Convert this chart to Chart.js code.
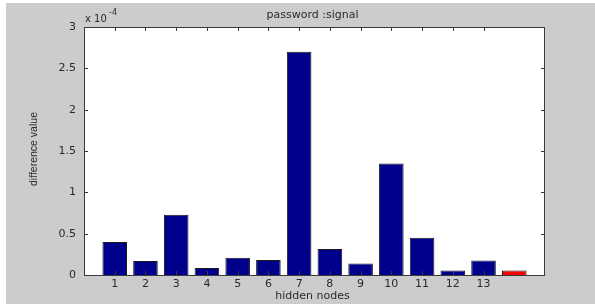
<!DOCTYPE html>
<html>
<head>
<meta charset="utf-8">
<script src="https://cdn.jsdelivr.net/npm/chart.js@4/dist/chart.umd.min.js"></script>
<style>
  html, body { margin: 0; padding: 0; background: #fff; }
  #wrap { width: 595px; height: 304px; }
</style>
</head>
<body>
<div id="wrap"><canvas id="c" width="595" height="304"></canvas></div>
<script>
/* ── DATA ── */
const hiddenNodes = [1, 2, 3, 4, 5, 6, 7, 8, 9, 10, 11, 12, 13, 14];
const diffValues  = [0.40, 0.17, 0.73, 0.085, 0.21, 0.18, 2.70, 0.315, 0.14, 1.35, 0.45, 0.053, 0.175, 0.053]; // x 10^-4
const tickedNodes = [1, 2, 3, 4, 5, 6, 7, 8, 9, 10, 11, 12, 13];
const yTicks      = [0, 0.5, 1, 1.5, 2, 2.5, 3];
const highlightNode = 14;

const titleText  = 'password :signal';
const xTitleText = 'hidden nodes';
const yTitleText = 'difference value';

const NAVY = '#00008c';
const RED  = '#ff0000';
const TXT  = '#2a2a2a';
const FONT = '"DejaVu Sans", sans-serif';

// grey figure, white axes, box, inward ticks, texts
const matlabFrame = {
  id: 'matlabFrame',
  beforeDraw(chart) {
    const { ctx, chartArea: a } = chart;
    ctx.save();
    ctx.fillStyle = '#ffffff';
    ctx.fillRect(0, 0, chart.width, chart.height);
    ctx.fillStyle = '#cccccc';
    ctx.fillRect(6, 3, chart.width - 6, chart.height - 3);
    ctx.fillStyle = '#ffffff';
    ctx.fillRect(a.left, a.top, a.right - a.left, a.bottom - a.top);
    ctx.restore();
  },
  afterDraw(chart) {
    const { ctx, chartArea: a, scales } = chart;
    const xs = scales.x, ys = scales.y;
    ctx.save();
    ctx.strokeStyle = '#3a3a3a';
    ctx.lineWidth = 1;
    ctx.strokeRect(a.left + 0.5, a.top + 0.5, a.right - a.left - 1, a.bottom - a.top);
    ctx.beginPath();
    tickedNodes.forEach(n => {
      const px = Math.round(xs.getPixelForValue(n)) + 0.5;
      ctx.moveTo(px, a.top); ctx.lineTo(px, a.top + 4);
      ctx.moveTo(px, a.bottom); ctx.lineTo(px, a.bottom - 4);
    });
    yTicks.forEach(v => {
      const py = Math.round(ys.getPixelForValue(v)) + 0.5;
      ctx.moveTo(a.left, py); ctx.lineTo(a.left + 4, py);
      ctx.moveTo(a.right, py); ctx.lineTo(a.right - 4, py);
    });
    ctx.stroke();

    ctx.fillStyle = TXT;
    ctx.textBaseline = 'middle';
    ctx.textAlign = 'center';
    ctx.font = '11px ' + FONT;
    const cx = (a.left + a.right) / 2 - 2;
    ctx.fillText(titleText, cx, 15);
    ctx.fillText(xTitleText, cx, 296);

    // exponent label
    ctx.textAlign = 'left';
    ctx.font = '10px ' + FONT;
    ctx.fillText('x 10', a.left + 1, 19);
    ctx.font = '8px ' + FONT;
    ctx.fillText('-4', a.left + 25, 13);

    // y title
    ctx.font = '10.5px "Liberation Sans Narrow", "Liberation Sans", sans-serif';
    ctx.textAlign = 'center';
    ctx.translate(34, (a.top + a.bottom) / 2 - 2);
    ctx.rotate(-Math.PI / 2);
    ctx.fillText(yTitleText, 0, 0);
    ctx.restore();
  }
};

new Chart(document.getElementById('c'), {
  type: 'bar',
  plugins: [matlabFrame],
  data: {
    datasets: [{
      data: hiddenNodes.map((n, i) => ({ x: n, y: diffValues[i] })),
      backgroundColor: ctx => (ctx.raw && ctx.raw.x === highlightNode) ? RED : NAVY,
      borderColor: '#1a1a1a',
      borderWidth: 1,
      borderSkipped: 'bottom',
      barPercentage: 0.8,
      categoryPercentage: 1
    }]
  },
  options: {
    responsive: false,
    animation: false,
    devicePixelRatio: 1,
    layout: { padding: { top: 27, right: 50, left: 0, bottom: 0 } },
    plugins: { legend: { display: false }, tooltip: { enabled: false } },
    scales: {
      x: {
        type: 'linear',
        offset: false,
        min: 0, max: 15,
        afterFit: s => { s.height = 29; },
        afterBuildTicks: s => { s.ticks = tickedNodes.map(v => ({ value: v })); },
        grid: { display: false, drawTicks: false },
        border: { display: false },
        ticks: { color: TXT, font: { size: 11, family: FONT }, padding: 3, autoSkip: false, maxRotation: 0 }
      },
      y: {
        min: 0, max: 3,
        afterFit: s => { s.width = 84; },
        afterBuildTicks: s => { s.ticks = yTicks.map(v => ({ value: v })); },
        grid: { display: false, drawTicks: false },
        border: { display: false },
        ticks: { color: TXT, font: { size: 11, family: FONT }, padding: 8, callback: v => String(v) }
      }
    }
  }
});
</script>
</body>
</html>
